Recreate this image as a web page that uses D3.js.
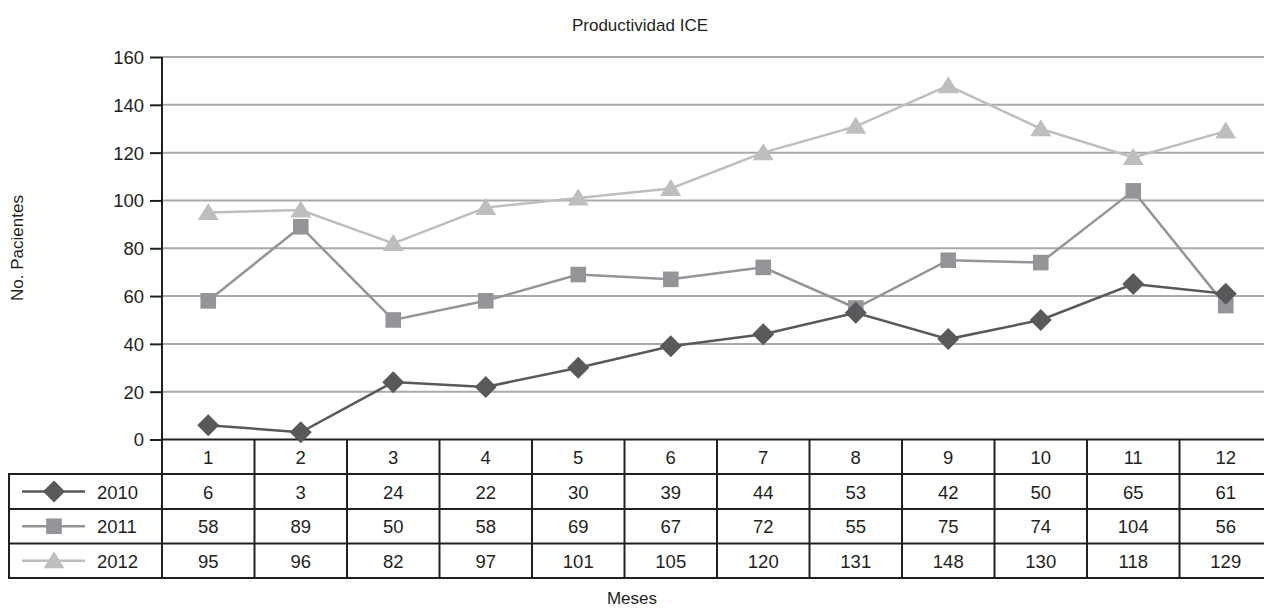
<!DOCTYPE html>
<html><head><meta charset="utf-8">
<script src="https://cdn.jsdelivr.net/npm/d3@7"></script>
<style>body{margin:0;background:#fff}svg{display:block;font-family:"Liberation Sans",Arial,sans-serif}</style>
</head><body><svg id="c" width="1264" height="609"></svg>
<script>
const months = ["1","2","3","4","5","6","7","8","9","10","11","12"];
const seriesNames = ["2010","2011","2012"];
const v2010 = [6,3,24,22,30,39,44,53,42,50,65,61];
const v2011 = [58,89,50,58,69,67,72,55,75,74,104,56];
const v2012 = [95,96,82,97,101,105,120,131,148,130,118,129];
const yTicks = [0,20,40,60,80,100,120,140,160];
const title = "Productividad ICE", yTitle = "No. Pacientes", xTitle = "Meses";

const series = [
  {name: seriesNames[0], values: v2010, color: "#58595b", shape: "diamond"},
  {name: seriesNames[1], values: v2011, color: "#939598", shape: "square"},
  {name: seriesNames[2], values: v2012, color: "#bcbec0", shape: "triangle"}
];
const ink = "#231f20";
const numSize = "18.5px", titleSize = "17px";
const svg = d3.select("#c");
const plotLeft = 162, colW = 92.5, plotTop = 57, plotBottom = 439.5;
const x = d3.scaleBand().domain(months).range([plotLeft, plotLeft + colW*12]);
const y = d3.scaleLinear().domain([0,160]).range([plotBottom, plotTop]);
const cx = m => x(m) + x.bandwidth()/2;

svg.append("g").selectAll("line").data(yTicks.filter(t=>t>0)).join("line")
  .attr("x1", plotLeft).attr("x2", 1264).attr("y1", d=>y(d)).attr("y2", d=>y(d))
  .attr("stroke", "#a7a9ac").attr("stroke-width", 2);

const ya = svg.append("g").attr("transform", `translate(${plotLeft},0)`)
  .call(d3.axisLeft(y).tickValues(yTicks).tickSize(12).tickPadding(6));
ya.select(".domain").remove();
ya.selectAll(".tick line").attr("stroke", ink).attr("stroke-width", 2);
ya.selectAll(".tick text").attr("fill", ink).style("font-size",numSize).attr("font-family","Liberation Sans, Arial, sans-serif").attr("dy","0.35em");

const rowY = [439.5, 474, 509, 543.5, 578];
const tg = svg.append("g").attr("stroke", ink).attr("stroke-width", 2);
tg.append("line").attr("x1", plotLeft).attr("x2", 1280).attr("y1", rowY[0]).attr("y2", rowY[0]);
[1,2,3,4].forEach(i => tg.append("line").attr("x1", 9).attr("x2", 1280).attr("y1", rowY[i]).attr("y2", rowY[i]));
tg.append("line").attr("x1", plotLeft).attr("x2", plotLeft).attr("y1", plotTop).attr("y2", rowY[4]+1);
tg.append("line").attr("x1", 9).attr("x2", 9).attr("y1", rowY[1]-1).attr("y2", rowY[4]+1);
months.forEach(m => tg.append("line").attr("x1", x(m)+colW).attr("x2", x(m)+colW).attr("y1", rowY[0]).attr("y2", rowY[4]+1));

svg.append("g").selectAll("text").data(months).join("text")
  .attr("x", d=>cx(d)).attr("y", (rowY[0]+rowY[1])/2 + 7).attr("text-anchor","middle")
  .attr("fill", ink).style("font-size",numSize).text(d=>d);

function marker(g, shape, color, s) {
  if (shape === "diamond") g.append("path").attr("d", `M0,${-s}L${s},0L0,${s}L${-s},0Z`).attr("fill", color);
  else if (shape === "square") g.append("rect").attr("x", -s*0.78).attr("y", -s*0.78).attr("width", s*1.56).attr("height", s*1.56).attr("fill", color);
  else g.append("path").attr("d", `M0,${-s*0.95}L${s*1.05},${s*0.75}L${-s*1.05},${s*0.75}Z`).attr("fill", color);
}

series.forEach((s, i) => {
  const ry = (rowY[i+1] + rowY[i+2]) / 2;
  const lg = svg.append("g");
  lg.append("line").attr("x1", 22).attr("x2", 85).attr("y1", ry).attr("y2", ry).attr("stroke", s.color).attr("stroke-width", 2.5);
  marker(lg.append("g").attr("transform", `translate(54,${ry})`), s.shape, s.color, s.shape==="diamond"?11:10);
  lg.append("text").attr("x", 97).attr("y", ry+7).attr("fill", ink).style("font-size",numSize).text(s.name);
  svg.append("g").selectAll("text").data(s.values).join("text")
    .attr("x", (d,j)=>cx(months[j])).attr("y", ry+7).attr("text-anchor","middle")
    .attr("fill", ink).style("font-size",numSize).text(d=>d);
});

[2,1,0].forEach(i => {
  const s = series[i];
  const line = d3.line().x((d,j)=>cx(months[j])).y(d=>y(d));
  svg.append("path").attr("d", line(s.values)).attr("fill","none").attr("stroke", s.color).attr("stroke-width", 2.5);
  const mg = svg.append("g");
  s.values.forEach((v,j) => marker(mg.append("g").attr("transform", `translate(${cx(months[j])},${y(v)})`), s.shape, s.color, s.shape==="diamond"?11:10));
});

svg.append("text").attr("x", 640).attr("y", 31).attr("text-anchor","middle").attr("fill", ink).style("font-size",titleSize).text(title);
svg.append("text").attr("x", 632).attr("y", 604).attr("text-anchor","middle").attr("fill", ink).style("font-size",titleSize).text(xTitle);
svg.append("text").attr("transform", "translate(23,248) rotate(-90)").attr("text-anchor","middle").attr("fill", ink).style("font-size",titleSize).text(yTitle);
</script></body></html>
